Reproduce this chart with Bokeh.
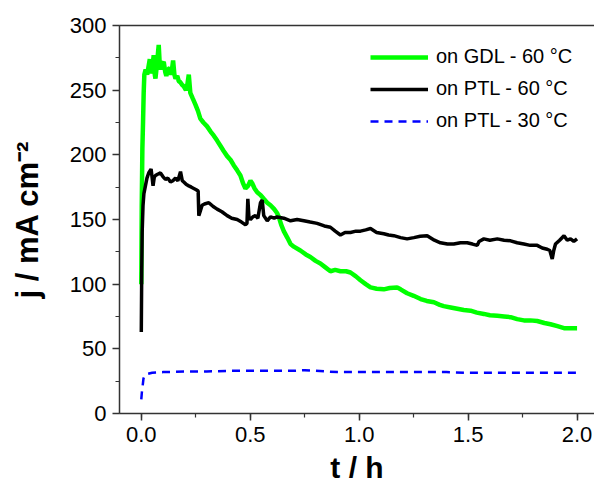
from bokeh.plotting import figure
from bokeh.models import (Range1d, SingleIntervalTicker, NumeralTickFormatter, Legend,
                          LegendItem, LinearAxis, FixedTicker)
from bokeh.embed import file_html
from bokeh.resources import INLINE

# ---------------- data ----------------
t_gdl = [0.0, 0.002, 0.005, 0.008, 0.011, 0.014, 0.02, 0.027, 0.033, 0.039,
         0.045, 0.05, 0.057, 0.062, 0.065, 0.072, 0.08, 0.084, 0.088, 0.095,
         0.103, 0.11, 0.115, 0.122, 0.13, 0.138, 0.146, 0.152, 0.157, 0.165,
         0.172, 0.18, 0.188, 0.195, 0.205, 0.212, 0.218, 0.225, 0.235, 0.248,
         0.26, 0.271, 0.285, 0.302, 0.318, 0.332, 0.348, 0.363, 0.378, 0.394,
         0.41, 0.424, 0.44, 0.455, 0.467, 0.478, 0.49, 0.501, 0.509, 0.52,
         0.532, 0.547, 0.562, 0.578, 0.593, 0.61, 0.623, 0.631, 0.642, 0.654,
         0.67, 0.685, 0.70, 0.73, 0.755, 0.776, 0.80, 0.822, 0.845, 0.868,
         0.89, 0.914, 0.94, 0.96, 0.985, 1.006, 1.03, 1.052, 1.08, 1.113,
         1.14, 1.174, 1.19, 1.22, 1.25, 1.282, 1.31, 1.343, 1.37, 1.388,
         1.42, 1.45, 1.48, 1.511, 1.54, 1.572, 1.60, 1.634, 1.665, 1.695,
         1.725, 1.756, 1.785, 1.817, 1.85, 1.878, 1.91, 1.94, 1.97, 2.0]
j_gdl = [100, 160, 205, 225, 248, 262, 266, 262, 268, 274,
         263, 266, 277, 262, 259, 270, 285, 272, 266, 270,
         272, 264, 261, 266, 267, 262, 273, 262, 259, 261,
         257, 256, 254, 253, 250, 255, 262, 248, 244, 239,
         234, 228, 225, 222, 218, 215, 211, 207, 203, 199,
         196, 192, 188, 184, 178, 174, 176, 180, 178, 174,
         171, 169, 166, 163, 161, 158, 155, 152, 146, 141,
         136, 131, 129, 126, 123, 121, 118, 116, 113, 110,
         111, 110, 110, 109, 106, 103, 100, 97.5, 96.5, 96,
         97, 97.5, 96, 93, 91, 88.5, 87, 86, 84, 83,
         82, 81, 80, 79.5, 78, 77, 76, 75.5, 75, 74.5,
         73, 72, 72, 71.5, 70, 69, 67.5, 66, 66, 66]

t_ptl60 = [0.0, 0.002, 0.004, 0.008, 0.012, 0.019, 0.026, 0.034, 0.045, 0.05,
           0.054, 0.06, 0.065, 0.075, 0.088, 0.1, 0.111, 0.122, 0.134, 0.145,
           0.157, 0.168, 0.18, 0.188, 0.195, 0.207, 0.218, 0.23, 0.241, 0.252,
           0.261, 0.264, 0.27, 0.279, 0.29, 0.31, 0.33, 0.348, 0.37, 0.394,
           0.415, 0.44, 0.46, 0.478, 0.485, 0.489, 0.494, 0.501, 0.512, 0.524,
           0.535, 0.547, 0.555, 0.562, 0.578, 0.593, 0.61, 0.623, 0.654, 0.685,
           0.715, 0.746, 0.775, 0.807, 0.84, 0.868, 0.89, 0.914, 0.935, 0.96,
           0.985, 1.006, 1.03, 1.052, 1.08, 1.113, 1.135, 1.159, 1.19, 1.22,
           1.251, 1.28, 1.312, 1.345, 1.373, 1.405, 1.434, 1.465, 1.496, 1.52,
           1.542, 1.55, 1.572, 1.60, 1.634, 1.665, 1.695, 1.725, 1.756, 1.785,
           1.817, 1.84, 1.863, 1.875, 1.886, 1.893, 1.901, 1.92, 1.94, 1.955,
           1.97, 1.985, 2.0]
j_ptl60 = [63, 110, 140, 161, 170, 176, 182, 186, 189, 182,
           176, 183, 184, 185, 186, 183, 181, 182, 179, 180,
           182, 180, 187, 180, 179, 177, 176, 175, 174, 173,
           172, 153, 156, 161, 162, 163, 160, 158, 156, 153,
           151, 150, 148, 146, 147, 166, 152, 150, 152, 153,
           151, 163, 165, 153, 149, 152, 151, 152, 151, 149,
           150, 149, 148, 147, 145, 144, 141, 138, 140, 140,
           141, 141, 142, 143, 140, 139, 138, 137.5, 136, 135,
           136, 137, 137.5, 134, 132, 131, 131, 132, 132, 131,
           130, 133, 135, 134, 135, 134, 133.5, 132, 131, 130,
           130, 128, 127, 126, 119.5, 126, 131, 134, 137.5, 134,
           135, 133, 135]

t_ptl30 = [0.0, 0.003, 0.006, 0.01, 0.015, 0.025, 0.05, 0.1, 0.2, 0.3,
           0.4, 0.5, 0.6, 0.7, 0.75, 0.8, 0.9, 1.0, 1.1, 1.2,
           1.3, 1.4, 1.5, 1.6, 1.7, 1.8, 1.9, 2.0]
j_ptl30 = [11, 17, 21, 27, 29, 30.5, 31.5, 32, 32.5, 32.5,
           33, 33, 33, 33, 33.5, 33, 32, 32, 32, 32,
           32, 32, 31.5, 31.5, 31.5, 31.5, 31.5, 31.5]

series_labels = ["on GDL - 60 °C", "on PTL - 60 °C", "on PTL - 30 °C"]
x_title = "t / h"
y_title = "j / mA cm⁻²"
x_ticks_interval = 0.5
y_ticks_interval = 50

FONT = "Liberation Sans"
AXIS_COLOR = "#333333"

p = figure(width=594, height=494, output_backend="svg", toolbar_location=None,
           x_range=Range1d(-0.1, 2.08), y_range=Range1d(0, 300),
           min_border_left=119, min_border_right=0, min_border_top=25,
           min_border_bottom=81)
p.xgrid.visible = False
p.ygrid.visible = False
p.outline_line_color = None
p.background_fill_color = "white"

r1 = p.line(t_gdl, j_gdl, line_color="#00ff00", line_width=4.5)
r2 = p.line(t_ptl60, j_ptl60, line_color="#000000", line_width=3.5)
r3 = p.line(t_ptl30, j_ptl30, line_color="#0000ff", line_width=2.5, line_dash="8 6")

xa = p.xaxis[0]
ya = p.yaxis[0]
xa.ticker = SingleIntervalTicker(interval=x_ticks_interval, num_minor_ticks=2)
xa.formatter = NumeralTickFormatter(format="0.0")
ya.ticker = SingleIntervalTicker(interval=y_ticks_interval, num_minor_ticks=2)
xa.axis_label = x_title
ya.axis_label = y_title
for ax in (xa, ya):
    ax.axis_line_width = 1.5
    ax.axis_line_color = AXIS_COLOR
    ax.major_tick_line_color = AXIS_COLOR
    ax.minor_tick_line_color = AXIS_COLOR
    ax.major_tick_line_width = 1.5
    ax.minor_tick_line_width = 1.2
    ax.major_tick_out = 7
    ax.major_tick_in = 0
    ax.minor_tick_out = 4
    ax.minor_tick_in = 0
    ax.major_label_text_font = FONT
    ax.major_label_text_font_size = "22px"
    ax.major_label_text_color = "black"
    ax.major_label_standoff = 6
    ax.axis_label_text_font = FONT
    ax.axis_label_text_font_style = "bold"
    ax.axis_label_text_color = "black"
xa.axis_label_text_font_size = "30px"
ya.axis_label_text_font_size = "31px"
xa.axis_label_standoff = 6
ya.axis_label_standoff = 22

top = LinearAxis(ticker=FixedTicker(ticks=[], minor_ticks=[]), axis_line_width=1.5,
                 axis_line_color=AXIS_COLOR, major_tick_out=0, minor_tick_out=0,
                 major_label_standoff=0)
p.add_layout(top, "above")

legend = Legend(items=[LegendItem(label=series_labels[0], renderers=[r1]),
                       LegendItem(label=series_labels[1], renderers=[r2]),
                       LegendItem(label=series_labels[2], renderers=[r3])],
                location=(251, 281), border_line_color=None,
                background_fill_alpha=0, padding=0, margin=0, spacing=9,
                glyph_width=58, glyph_height=20, label_height=20,
                label_standoff=8, label_text_font=FONT,
                label_text_font_size="20px", label_text_color="black")
p.add_layout(legend)

open("out.html", "w").write(file_html(p, INLINE))
